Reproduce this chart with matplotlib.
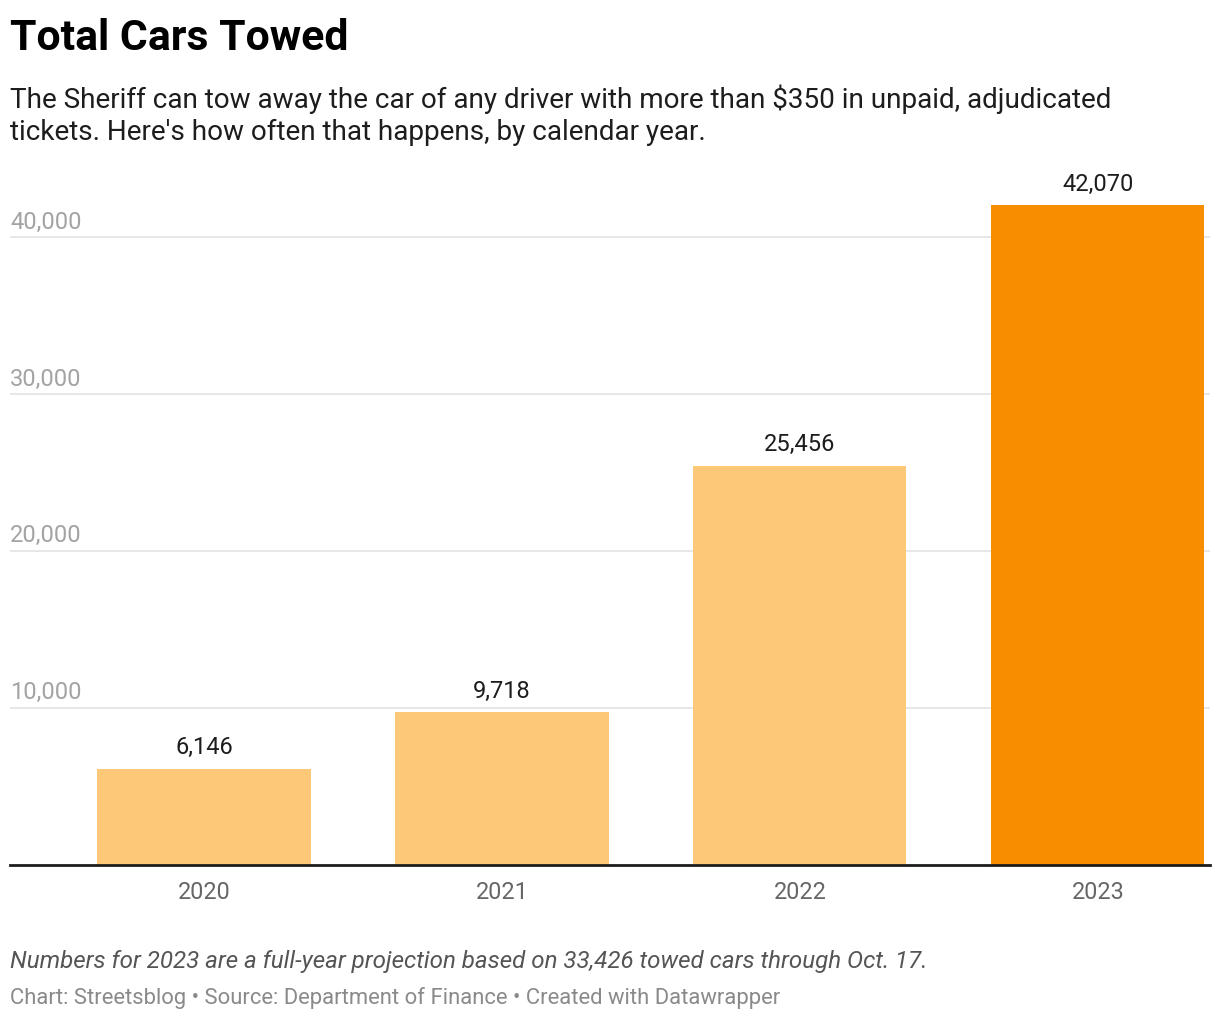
import matplotlib
matplotlib.use("Agg")
import matplotlib.pyplot as plt

years = ["2020", "2021", "2022", "2023"]
towed = [6146, 9718, 25456, 42070]
bar_colors = ["#fdc978", "#fdc978", "#fdc978", "#f98d00"]
y_ticks = [10000, 20000, 30000, 40000]
y_tick_labels = ["10,000", "20,000", "30,000", "40,000"]
value_labels = ["6,146", "9,718", "25,456", "42,070"]

title = "Total Cars Towed"
subtitle = ("The Sheriff can tow away the car of any driver with more than $350 in unpaid, adjudicated\n"
            "tickets. Here's how often that happens, by calendar year.")
note = "Numbers for 2023 are a full-year projection based on 33,426 towed cars through Oct. 17."
credits = "Chart: Streetsblog \u2022 Source: Department of Finance \u2022 Created with Datawrapper"

plt.rcParams['font.family'] = ['Roboto', 'DejaVu Sans']

W, H = 1220, 1020
fig = plt.figure(figsize=(W / 100, H / 100), dpi=100)
ax = fig.add_axes([10 / W, (H - 866) / H, 1200 / W, (866 - 170) / H])

x = list(range(len(years)))
ax.bar(x, towed, width=0.715, color=bar_colors, zorder=2)
ax.set_xlim(-0.651, 3.376)
ax.set_ylim(0, 44350)

for yv in y_ticks:
    ax.axhline(yv, color="#e3e3e3", lw=1.2, zorder=1)
for yv, lab in zip(y_ticks, y_tick_labels):
    ax.annotate(lab, xy=(0, yv), xycoords=("axes fraction", "data"),
                xytext=(0, 7), textcoords="offset points",
                ha="left", va="baseline", fontsize=17, color="#a3a3a3")

for xi, v, lab in zip(x, towed, value_labels):
    ax.annotate(lab, xy=(xi, v), xytext=(0, 11), textcoords="offset points",
                ha="center", va="baseline", fontsize=17, color="#1d1d1d")

ax.set_xticks(x)
ax.set_xticklabels(years, fontsize=16.8, color="#666666")
ax.tick_params(axis="x", length=0, pad=11)
ax.set_yticks([])
for s in ["top", "right", "left"]:
    ax.spines[s].set_visible(False)
ax.spines["bottom"].set_linewidth(2)
ax.spines["bottom"].set_color("#1d1d1d")
ax.spines["bottom"].set_zorder(3)

fig.text(10 / W, 1 - 50 / H, title, fontsize=30.8, fontweight="bold", color="#000000",
         ha="left", va="baseline")
fig.text(10 / W, 1 - 140 / H, subtitle, fontsize=20.1, color="#1d1d1d",
         ha="left", va="baseline", linespacing=1.22)
fig.text(10 / W, 1 - 968 / H, note, fontsize=17.4, style="italic", color="#555555",
         ha="left", va="baseline")
fig.text(10 / W, 1 - 1004 / H, credits, fontsize=15.8, color="#8a8a8a",
         ha="left", va="baseline")

fig.savefig("out.png", dpi=100, facecolor="white")
